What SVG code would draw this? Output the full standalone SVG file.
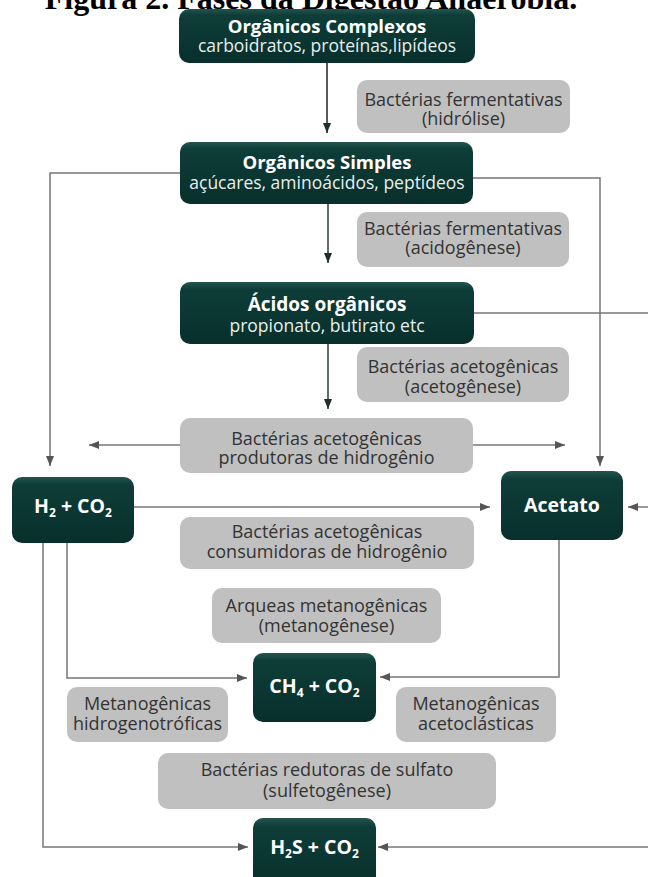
<svg xmlns="http://www.w3.org/2000/svg" width="648" height="877" viewBox="0 0 648 877">
<style>
.node rect{fill:url(#dk);}
.lab rect{fill:#c0c0c0;}
.t{font-family:"Open Sans","Noto Sans",sans-serif;text-anchor:middle;}
.nt{fill:#ffffff;font-weight:bold;font-size:18.5px;}
.ns{fill:#e8eeee;font-size:17.5px;font-weight:normal;}
.big{fill:#ffffff;font-weight:bold;font-size:19.5px;}
.sub{font-size:12px;}
.lt{fill:#333333;font-size:18px;}
.title{font-family:"Liberation Serif","Times New Roman",serif;font-weight:bold;font-size:32px;text-anchor:middle;fill:#000;}
.c{fill:none;stroke:#767676;stroke-width:1.5;}
.cd{fill:none;stroke:#2b3d3a;stroke-width:1.5;}
</style>
<defs>
<linearGradient id="dk" x1="0" y1="0" x2="0" y2="1">
<stop offset="0" stop-color="#23544e"/>
<stop offset="0.12" stop-color="#0e3d38"/>
<stop offset="1" stop-color="#082f2b"/>
</linearGradient>
<marker id="ag" markerUnits="userSpaceOnUse" markerWidth="10" markerHeight="8" refX="10" refY="4" orient="auto">
<path d="M0,0 L10,4 L0,8 z" fill="#555555"/>
</marker>
<marker id="ad" markerUnits="userSpaceOnUse" markerWidth="10" markerHeight="8" refX="10" refY="4" orient="auto">
<path d="M0,0 L10,4 L0,8 z" fill="#1b302d"/>
</marker>
</defs>
<rect width="648" height="877" fill="#ffffff"/>
<text class="title" x="311" y="9">Figura 2. Fases da Digestão Anaeróbia.</text>

<g id="connectors">
<path class="cd" d="M327,63 V133" marker-end="url(#ad)" style="stroke:#222"/>
<path class="cd" d="M328,204 V263" marker-end="url(#ad)"/>
<path class="cd" d="M328,344 V409" marker-end="url(#ad)"/>
<path class="c" d="M180,173 H50 V466" marker-end="url(#ag)"/>
<path class="c" d="M473,178 H600 V466" marker-end="url(#ag)"/>
<path class="c" d="M474,313 H648"/>
<path class="c" d="M180,445 H89" marker-end="url(#ag)"/>
<path class="c" d="M473,445 H565" marker-end="url(#ag)"/>
<path class="c" d="M134,507 H490" marker-end="url(#ag)"/>
<path class="c" d="M648,507 H628" marker-end="url(#ag)"/>
<path class="c" d="M67,543 V678 H247" marker-end="url(#ag)"/>
<path class="c" d="M559,540 V677 H380" marker-end="url(#ag)"/>
<path class="c" d="M43,543 V847 H248" marker-end="url(#ag)"/>
<path class="c" d="M648,847 H378" marker-end="url(#ag)"/>
</g>

<g id="organicos-complexos" class="node">
<rect x="179" y="9" width="296" height="54" rx="10"/>
<text class="t nt" x="327" y="33">Orgânicos Complexos<tspan class="ns" x="327" y="52">carboidratos, proteínas,lipídeos</tspan></text>
</g>
<g id="hidrolise" class="lab">
<rect x="357" y="80" width="213" height="53" rx="10"/>
<text class="t lt" x="463.5" y="106">Bactérias fermentativas<tspan x="463.5" y="125">(hidrólise)</tspan></text>
</g>
<g id="organicos-simples" class="node">
<rect x="180" y="142" width="293" height="62" rx="10"/>
<text class="t nt" x="327" y="169">Orgânicos Simples<tspan class="ns" x="327" y="189">açúcares, aminoácidos, peptídeos</tspan></text>
</g>
<g id="acidogenese" class="lab">
<rect x="357" y="212" width="212" height="55" rx="10"/>
<text class="t lt" x="463" y="235">Bactérias fermentativas<tspan x="463" y="254">(acidogênese)</tspan></text>
</g>
<g id="acidos-organicos" class="node">
<rect x="180" y="282" width="294" height="62" rx="10"/>
<text class="t nt" x="327" y="311" style="font-size:19px">Ácidos orgânicos<tspan class="ns" x="327" y="332">propionato, butirato etc</tspan></text>
</g>
<g id="acetogenese" class="lab">
<rect x="357" y="347" width="212" height="55" rx="10"/>
<text class="t lt" x="463" y="373">Bactérias acetogênicas<tspan x="463" y="393">(acetogênese)</tspan></text>
</g>
<g id="produtoras" class="lab">
<rect x="180" y="418" width="293" height="55" rx="10"/>
<text class="t lt" x="326.5" y="445">Bactérias acetogênicas<tspan x="326.5" y="464">produtoras de hidrogênio</tspan></text>
</g>
<g id="h2-co2" class="node">
<rect x="12" y="477" width="122" height="66" rx="10"/>
<text class="t big" x="73" y="513">H<tspan class="sub" dy="4">2</tspan><tspan dy="-4"> + CO</tspan><tspan class="sub" dy="4">2</tspan></text>
</g>
<g id="acetato" class="node">
<rect x="501" y="471" width="122" height="69" rx="10"/>
<text class="t big" x="562" y="512">Acetato</text>
</g>
<g id="consumidoras" class="lab">
<rect x="180" y="517" width="294" height="52" rx="10"/>
<text class="t lt" x="327" y="538">Bactérias acetogênicas<tspan x="327" y="558">consumidoras de hidrogênio</tspan></text>
</g>
<g id="metanogenese" class="lab">
<rect x="212" y="588" width="229" height="55" rx="10"/>
<text class="t lt" x="326.5" y="612">Arqueas metanogênicas<tspan x="326.5" y="632">(metanogênese)</tspan></text>
</g>
<g id="ch4-co2" class="node">
<rect x="253" y="653" width="123" height="69" rx="10"/>
<text class="t big" x="314.5" y="693">CH<tspan class="sub" dy="4">4</tspan><tspan dy="-4"> + CO</tspan><tspan class="sub" dy="4">2</tspan></text>
</g>
<g id="hidrogenotroficas" class="lab">
<rect x="67" y="687" width="161" height="55" rx="10"/>
<text class="t lt" x="147.5" y="710">Metanogênicas<tspan x="147.5" y="730">hidrogenotróficas</tspan></text>
</g>
<g id="acetoclasticas" class="lab">
<rect x="396" y="687" width="160" height="55" rx="10"/>
<text class="t lt" x="476" y="710">Metanogênicas<tspan x="476" y="730">acetoclásticas</tspan></text>
</g>
<g id="sulfetogenese" class="lab">
<rect x="158" y="753" width="338" height="56" rx="10"/>
<text class="t lt" x="327" y="776">Bactérias redutoras de sulfato<tspan x="327" y="797">(sulfetogênese)</tspan></text>
</g>
<g id="h2s-co2" class="node">
<rect x="253" y="818" width="123" height="72" rx="10"/>
<text class="t big" x="314.5" y="854">H<tspan class="sub" dy="4">2</tspan><tspan dy="-4">S + CO</tspan><tspan class="sub" dy="4">2</tspan></text>
</g>
</svg>
